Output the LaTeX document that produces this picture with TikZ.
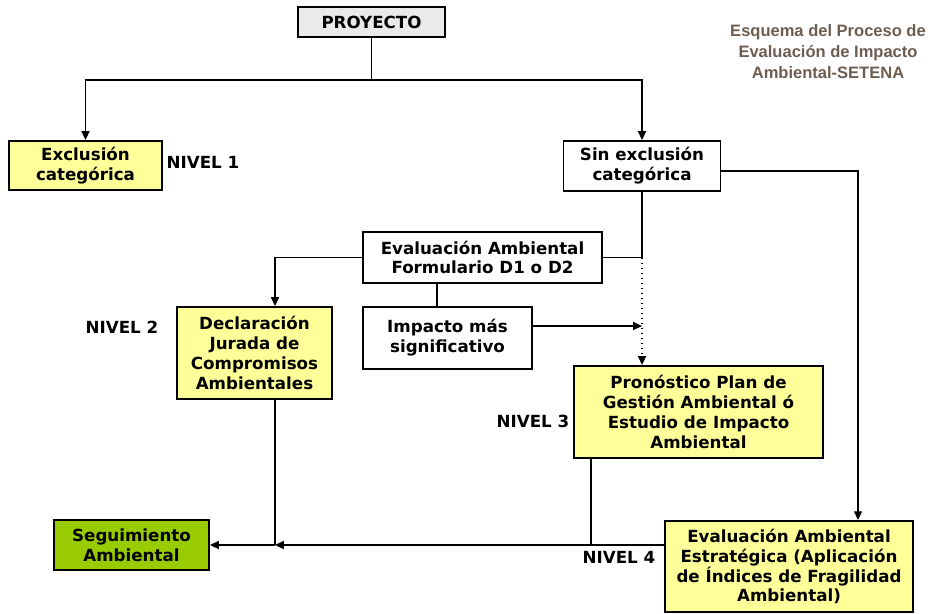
\documentclass[tikz,border=0pt]{standalone}
\usepackage{fontspec}
\setmainfont{DejaVu Sans}
\newfontfamily\titlefont{Liberation Sans}
\usepackage{xcolor}
\usepackage{tikz}
\usetikzlibrary{arrows.meta,positioning,calc}
\definecolor{setyellow}{RGB}{255,255,153}
\definecolor{setgreen}{RGB}{153,204,0}
\definecolor{setgray}{RGB}{234,234,234}
\definecolor{setbrown}{RGB}{110,92,80}

\begin{document}
\begin{tikzpicture}[
  every node/.style={font=\fontsize{9.5}{11.3}\selectfont\bfseries},
  caja/.style={draw=black, line width=1.1pt, fill=white, align=center, inner sep=0pt},
  nivelbox/.style={caja, fill=setyellow},
  arr/.style={-{Triangle[length=5pt,width=4.5pt]}, line width=0.85pt},
  conn/.style={line width=0.85pt},
  nivel/.style={font=\fontsize{9.5}{11.3}\selectfont\bfseries},
  titulo/.style={font=\titlefont\fontsize{9.4}{12}\selectfont\bfseries, color=setbrown, align=center}
]
  \useasboundingbox (0,0) rectangle (18.6,-12.28);

  \node[caja, fill=setgray, minimum width=2.94cm, minimum height=0.6cm] (proyecto) at (7.43,-0.44) {PROYECTO};
  \node[nivelbox, minimum width=3.06cm, minimum height=0.98cm] (exclusion) at (1.71,-3.31) {Exclusión\\categórica};
  \node[caja, minimum width=3.14cm, minimum height=1.0cm] (sinexcl) at (12.84,-3.32) {Sin exclusión\\categórica};
  \node[caja, minimum width=4.78cm, minimum height=1.02cm] (formulario) at (9.65,-5.15) {Evaluación Ambiental\\Formulario D1 o D2};
  \node[caja, minimum width=3.38cm, minimum height=1.24cm] (impacto) at (8.95,-6.76) {Impacto más\\significativo};
  \node[nivelbox, minimum width=3.1cm, minimum height=1.84cm] (declaracion) at (5.09,-7.06) {Declaración\\Jurada de\\Compromisos\\Ambientales};
  \node[nivelbox, minimum width=4.98cm, minimum height=1.84cm] (pronostico) at (13.97,-8.24) {Pronóstico Plan de\\Gestión Ambiental ó\\Estudio de Impacto\\Ambiental};
  \node[nivelbox, minimum width=4.96cm, minimum height=1.82cm] (eae) at (15.78,-11.33) {Evaluación Ambiental\\Estratégica (Aplicación\\de Índices de Fragilidad\\Ambiental)};
  \node[caja, fill=setgreen, minimum width=3.1cm, minimum height=1.0cm] (seguimiento) at (2.63,-10.9) {Seguimiento\\Ambiental};

  % Niveles
  \node[nivel] (nivel1) at (4.06,-3.24) {NIVEL 1};
  \node[nivel] (nivel2) at (2.44,-6.54) {NIVEL 2};
  \node[nivel] (nivel3) at (10.66,-8.42) {NIVEL 3};
  \node[nivel] (nivel4) at (12.38,-11.14) {NIVEL 4};

  \node[titulo] (titulo) at (16.56,-1.04) {Esquema del Proceso de\\Evaluación de Impacto\\Ambiental-SETENA};

  % Junctions
  \coordinate (split) at (7.43,-1.6);
  \coordinate (jsin) at (sinexcl.south |- formulario.east);
  \coordinate (jdecl) at (5.5,-10.9);

  \draw[conn] (proyecto) -- (split);
  \draw[arr] (split) -| (exclusion.north);
  \draw[arr] (split) -| (sinexcl.north);
  \draw[conn] (sinexcl.south) -- (jsin) -- (formulario.east);
  \draw[arr, dotted] (jsin) -- (jsin |- pronostico.north);
  \draw[arr] ([yshift=-0.1cm]sinexcl.east) -| ([xshift=1.38cm]eae.north);
  \draw[arr] (formulario.west) -| (jdecl |- declaracion.north);
  \draw[conn] (formulario.south -| impacto.north) ++(-0.21,0) -- ([xshift=-0.21cm]impacto.north);
  \draw[arr] ([yshift=0.24cm]impacto.east) -- ([yshift=0.24cm]impacto.east -| jsin);
  \draw[conn] (jdecl |- declaracion.south) -- (jdecl);
  \draw[conn] ([xshift=0.36cm]pronostico.south west) coordinate (p3) -- (p3 |- jdecl);
  \draw[arr] (eae.west |- jdecl) -- (jdecl);
  \draw[arr] (jdecl) -- (seguimiento.east);
\end{tikzpicture}
\end{document}
